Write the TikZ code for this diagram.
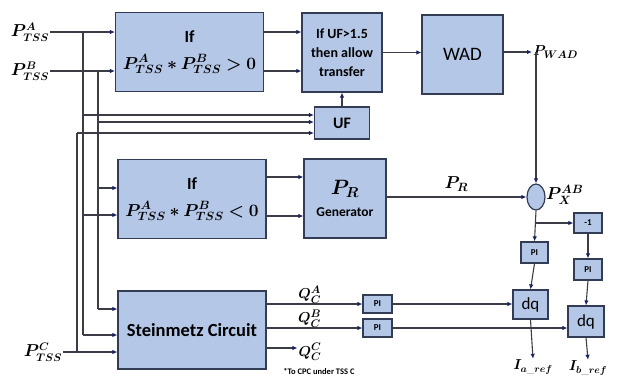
\documentclass[tikz,border=0pt]{standalone}
\usepackage{amsmath,bm}
\usepackage{fontspec}
\setsansfont{Carlito}
\usetikzlibrary{arrows.meta,shapes.geometric}
\definecolor{boxfill}{RGB}{180,199,231}
\definecolor{boxedge}{RGB}{50,60,85}
\definecolor{wire}{RGB}{60,60,70}
\definecolor{navy}{RGB}{25,35,100}

\begin{document}
\begin{tikzpicture}[x=1pt, y=-1pt,
  every node/.style={font=\sffamily\bfseries},
  blk/.style={draw=boxedge, line width=1.2pt, fill=boxfill, align=center, inner sep=1pt},
  tiny/.style={blk, font=\sffamily\bfseries\fontsize{9}{10}\selectfont},
  cond/.style={blk, minimum width=148pt, minimum height=79pt, font=\sffamily\bfseries\fontsize{17}{27}\selectfont},
  lbl/.style={inner sep=1pt, font=\fontsize{16}{18}\selectfont},
  arr/.style={-{Latex[length=5pt,width=4.5pt,color=navy]}, line width=1.1pt, draw=wire},
  wirel/.style={line width=1.1pt, draw=wire}]
\useasboundingbox (0,0) rectangle (619,376);

% inputs
\node[lbl] (pa) at (30,32) {$\bm{P^{A}_{TSS}}$};
\node[lbl] (pb) at (30,71) {$\bm{P^{B}_{TSS}}$};
\node[lbl] (pc) at (43,352) {$\bm{P^{C}_{TSS}}$};

% blocks
\node[cond] (gt) at (189.5,52) {If\\$\bm{P^{A}_{TSS} * P^{B}_{TSS} > 0}$};
\node[blk, minimum width=80pt, minimum height=79pt, font=\sffamily\bfseries\fontsize{14}{19}\selectfont] (allow) at (342,52.5)
  {If UF>1.5\\then allow\\transfer};
\node[blk, minimum width=81pt, minimum height=79pt, font=\sffamily\fontsize{19}{22}\selectfont] (wad) at (462.5,54.5) {WAD};
\node[blk, minimum width=55pt, minimum height=32pt, font=\sffamily\bfseries\fontsize{16}{18}\selectfont] (uf) at (342,123) {UF};
\node[cond] (lt) at (192,199) {If\\$\bm{P^{A}_{TSS} * P^{B}_{TSS} < 0}$};
\node[blk, minimum width=82pt, minimum height=79pt, font=\sffamily\bfseries\fontsize{13.5}{22}\selectfont] (gen) at (345,198.5)
  {{\fontsize{21}{22}\selectfont$\bm{P_{R}}$}\\Generator};
\node[blk, ellipse, minimum width=18pt, minimum height=26pt, inner sep=0pt] (sum) at (536,197) {};
\node[tiny, minimum width=28pt, minimum height=20pt] (neg) at (588,223) {-1};
\node[tiny, minimum width=27pt, minimum height=21pt] (pia) at (534.5,252.5) {PI};
\node[tiny, minimum width=28pt, minimum height=21pt] (pib) at (588,269.5) {PI};
\node[blk, minimum width=35pt, minimum height=29pt, font=\sffamily\fontsize{17}{18}\selectfont] (dqa) at (530.5,304.5) {dq};
\node[blk, minimum width=36pt, minimum height=31pt, font=\sffamily\fontsize{17}{18}\selectfont] (dqb) at (586,321.5) {dq};
\node[tiny, minimum width=29pt, minimum height=18pt] (pi1) at (377.5,304) {PI};
\node[tiny, minimum width=29pt, minimum height=18pt] (pi2) at (377.5,328) {PI};
\node[blk, minimum width=148pt, minimum height=78pt, font=\sffamily\bfseries\fontsize{18.5}{20}\selectfont] (stm) at (192,330) {Steinmetz Circuit};

% output labels
\node[lbl, anchor=west, font=\fontsize{15}{16}\selectfont] (pwad) at (532,52) {$\bm{P_{WAD}}$};
\node[lbl, anchor=west, font=\fontsize{17}{18}\selectfont] (pxab) at (545,195) {$\bm{P^{AB}_{X}}$};
\node[lbl, font=\fontsize{14}{16}\selectfont] (ia) at (533,367) {$\bm{I_{a\_ref}}$};
\node[lbl, font=\fontsize{14}{16}\selectfont] (ib) at (588,368) {$\bm{I_{b\_ref}}$};
\node[lbl, font=\fontsize{15}{16}\selectfont] (qc) at (310,352) {$\bm{Q^{C}_{C}}$};
\node[font=\sffamily\bfseries\fontsize{8.5}{9}\selectfont, inner sep=0pt] (note) at (319,371) {*To CPC under TSS C};

% bus taps
\coordinate (ba) at (83,32);
\coordinate (bb) at (98,71);
\coordinate (bc) at (77,352);
\coordinate (ua) at (83,115);
\coordinate (ub) at (98,122);
\coordinate (uc) at (77,133);
\coordinate (la) at (83,215);
\coordinate (lb) at (98,188);
\coordinate (sa) at (83,335);
\coordinate (sb) at (98,309);

% input wiring
\draw[arr] (pa.east |- ba) -- (gt.west |- ba);
\draw[arr] (pb.east |- bb) -- (gt.west |- bb);
\draw[arr] (pc.east |- bc) -- (stm.west |- bc);
\draw[wirel] (ba) -- (sa);
\draw[wirel] (bb) -- (sb);
\draw[wirel] (bc) -- (uc);
\draw[arr] (ua) -- (uf.west |- ua);
\draw[arr] (ub) -- (uf.west |- ub);
\draw[arr] (uc) -- (uf.west |- uc);
\draw[arr] (la) -- (lt.west |- la);
\draw[arr] (lb) -- (lt.west |- lb);
\draw[arr] (sa) -- (stm.west |- sa);
\draw[arr] (sb) -- (stm.west |- sb);

% upper path
\draw[arr] (gt.east |- ba) -- (allow.west |- ba);
\draw[arr] (gt.east |- bb) -- (allow.west |- bb);
\draw[arr] (uf.north) -- (allow.south);
\draw[arr] (allow.east) -- (allow.east -| wad.west);
\draw[arr] (wad.east |- pwad.west) -- (pwad.west);
\draw[arr] (sum |- pwad.west) -- (sum.north);

% middle path
\draw[arr] (lt.east |- 0,177) -- (gen.west |- 0,177);
\draw[arr] (lt.east |- 0,216) -- (gen.west |- 0,216);
\draw[arr] (gen.east |- sum) -- node[above=4pt, lbl, font=\fontsize{18}{19}\selectfont] {$\bm{P_{R}}$} (sum.west);
\draw[arr] (sum.south) -- (pia.north);
\draw[arr] (sum |- neg) -- (neg.west);
\draw[arr] (neg.south) -- (pib.north);
\draw[arr] (pia.south) -- (dqa.north);
\draw[arr] (pib.south) -- (dqb.north);
\draw[arr] (dqa.south) -- (ia.north);
\draw[arr] (dqb.south) -- (ib.north);

% lower path
\draw[arr] (stm.east |- pi1) -- node[pos=0.45, above=-1pt, lbl, font=\fontsize{15}{16}\selectfont] {$\bm{Q^{A}_{C}}$} (pi1.west);
\draw[arr] (stm.east |- pi2) -- node[pos=0.45, above=-1pt, lbl, font=\fontsize{15}{16}\selectfont] {$\bm{Q^{B}_{C}}$} (pi2.west);
\draw[arr] (stm.east |- 0,348) -- (qc.west |- 0,348);
\draw[arr] (pi1.east) -- (pi1.east -| dqa.west);
\draw[arr] (pi2.east) -- (pi2.east -| dqb.west);
\end{tikzpicture}
\end{document}
